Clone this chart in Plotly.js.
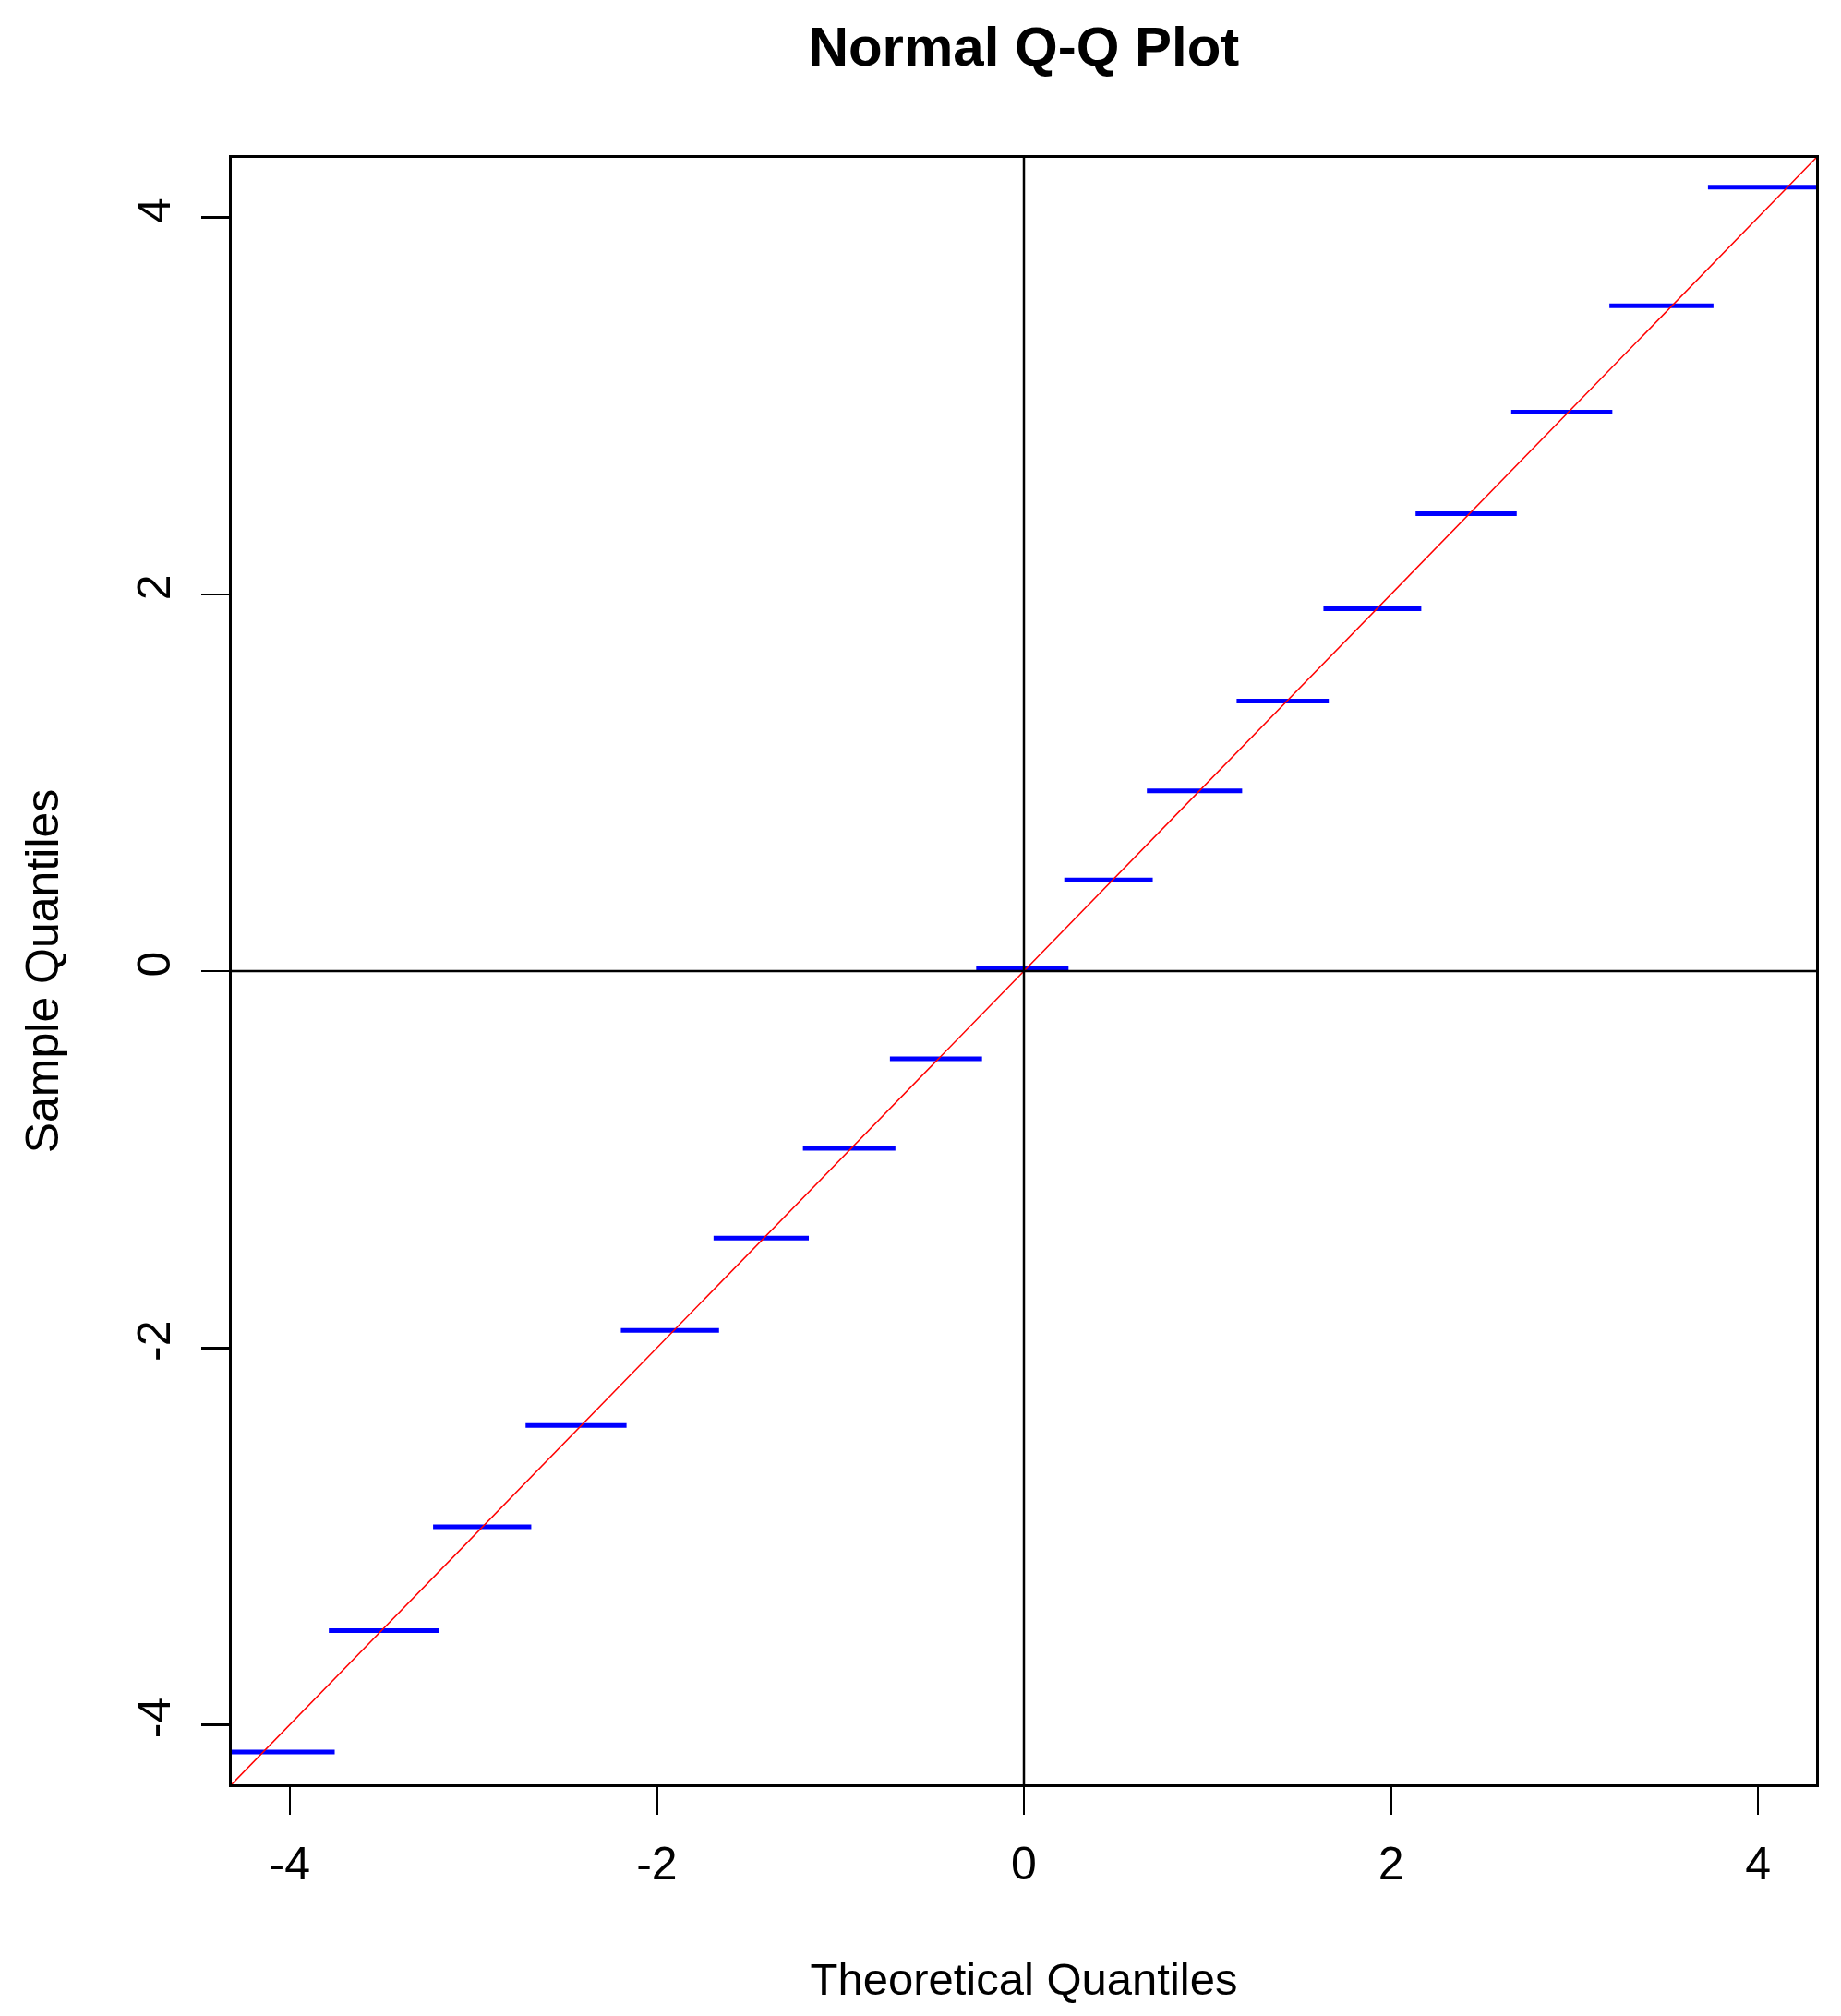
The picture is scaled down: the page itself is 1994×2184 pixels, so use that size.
<!DOCTYPE html>
<html>
<head>
<meta charset="utf-8">
<script src="https://cdn.plot.ly/plotly-3.0.1.min.js"></script>
<style>body{margin:0;background:#fff}</style>
</head>
<body>
<div id="qqplot" style="width:1994px;height:2184px"></div>
<script>
// sample quantile levels (horizontal runs) and their theoretical x extent
var sampleQ  = [-4.144, -3.500, -2.949, -2.412, -1.907, -1.417, -0.941, -0.466, 0.015,
                0.484, 0.957, 1.433, 1.923, 2.428, 2.966, 3.531, 4.160];
var segStart = [-4.40, -3.787, -3.219, -2.715, -2.196, -1.691, -1.204, -0.730, -0.260,
                0.220, 0.670, 1.159, 1.632, 2.134, 2.655, 3.190, 3.727];
var segEnd   = [-3.755, -3.187, -2.684, -2.165, -1.661, -1.172, -0.700, -0.228, 0.243,
                0.702, 1.189, 1.661, 2.165, 2.685, 3.206, 3.757, 4.40];
// qqline y = x
var refLine = [-4.5, 4.5];
var tickVals = [-4, -2, 0, 2, 4];
var tickText = ["-4", "-2", "0", "2", "4"];

var segX = [], segY = [];
for (var i = 0; i < sampleQ.length; i++) {
  segX.push(segStart[i], segEnd[i], null);
  segY.push(sampleQ[i], sampleQ[i], null);
}

var segments = {
  x: segX,
  y: segY,
  mode: "lines",
  type: "scatter",
  line: {color: "#0000ff", width: 5},
  hoverinfo: "skip"
};
var qqline = {
  x: refLine,
  y: refLine,
  mode: "lines",
  type: "scatter",
  line: {color: "#ff0000", width: 1.5}
};

var fontFam = "Liberation Sans, Arial, sans-serif";
var axisBase = {
  range: [-4.316, 4.316],
  tickvals: tickVals,
  ticktext: tickText,
  ticks: "outside",
  ticklen: 30,
  tickwidth: 2.5,
  tickcolor: "#000",
  showline: true,
  mirror: true,
  linewidth: 3,
  linecolor: "#000",
  showgrid: false,
  zeroline: false,
  automargin: false,
  tickfont: {family: fontFam, size: 50, color: "#000"}
};

var xaxis = Object.assign({}, axisBase, {
  ticklabelstandoff: 10,
  title: {text: "Theoretical Quantiles", font: {family: fontFam, size: 49, color: "#000"}, standoff: 81}
});
var yaxis = Object.assign({}, axisBase, {
  tickangle: -90,
  ticklabelstandoff: 14,
  title: {text: "Sample Quantiles", font: {family: fontFam, size: 50, color: "#000"}, standoff: 60}
});

var layout = {
  width: 1994,
  height: 2184,
  margin: {l: 251, r: 27, t: 171, b: 251},
  paper_bgcolor: "#fff",
  plot_bgcolor: "#fff",
  showlegend: false,
  title: {
    text: "<b>Normal Q-Q Plot</b>",
    font: {family: fontFam, size: 60, color: "#000"},
    x: 0.5, xref: "paper",
    y: 1 - 50 / 2184, yref: "container", yanchor: "middle"
  },
  xaxis: xaxis,
  yaxis: yaxis,
  shapes: [
    {type: "line", xref: "x", yref: "paper", x0: 0, x1: 0, y0: 0, y1: 1,
     line: {color: "#000", width: 2.5}, layer: "above"},
    {type: "line", xref: "paper", yref: "y", x0: 0, x1: 1, y0: 0, y1: 0,
     line: {color: "#000", width: 2.5}, layer: "above"}
  ]
};

Plotly.newPlot("qqplot", [segments, qqline], layout, {displayModeBar: false, staticPlot: true});
</script>
</body>
</html>
